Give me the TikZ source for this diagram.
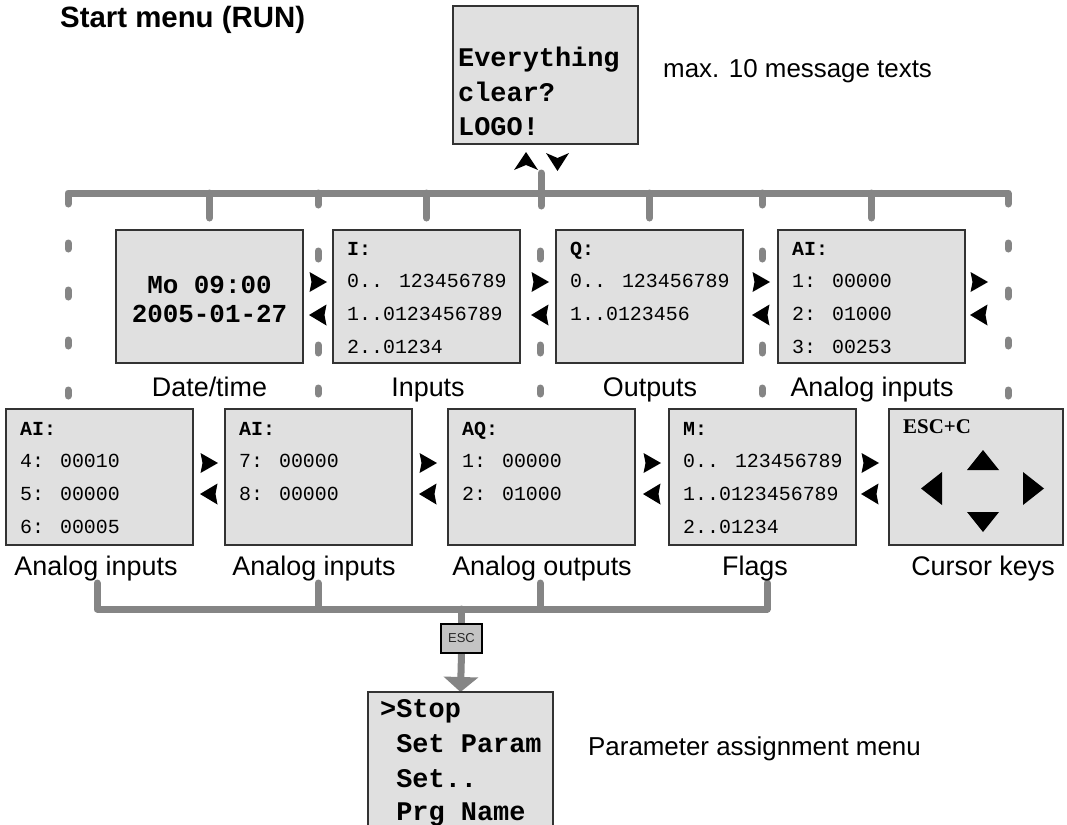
\documentclass[tikz,border=0pt]{standalone}
\usepackage{fontspec}
\setmainfont{Liberation Sans}
\newfontfamily\lcdfont{Liberation Mono}
\newfontfamily\keyfont{Liberation Serif}
\usetikzlibrary{calc,arrows.meta}
\definecolor{lcd}{HTML}{E0E0E0}
\definecolor{busgray}{HTML}{858585}
\definecolor{escgray}{HTML}{C4C4C4}
\pgfdeclarelayer{bg}
\pgfsetlayers{bg,main}
\tikzset{
  screen/.style={draw=black!80, line width=1.5bp, fill=lcd, anchor=north west, inner sep=0pt, outer sep=0pt},
  rowone/.style={screen, minimum width=187bp, minimum height=133bp},
  rowtwo/.style={screen, minimum width=187bp, minimum height=136bp},
  dat/.style={anchor=base west, inner sep=0pt, font=\lcdfont\fontsize{20}{24}\selectfont},
  hdr/.style={anchor=base west, inner sep=0pt, font=\lcdfont\bfseries\fontsize{20}{24}\selectfont},
  big/.style={anchor=base west, inner sep=0pt, font=\lcdfont\bfseries\fontsize{27}{32}\selectfont},
  lbl/.style={anchor=base, inner sep=0pt, font=\fontsize{27}{30}\selectfont},
  note/.style={anchor=base west, inner sep=0pt, font=\fontsize{26}{30}\selectfont},
  bus/.style={draw=busgray, line width=7bp, line cap=round, line join=round},
}
\newcommand\lcdtext[4]{%
  \node[hdr] (#1-h) at ($(#1.north west)+(14,#3)$) {#2};
  \foreach \t [count=\i] in {#4} {\node[dat] (#1-\i) at ($(#1.north west)+(14,#3+32.7*\i)$) {\t};}
}
\newcommand\navpair[3]{%
  \fill (#1-8.5,#2-10) -- (#1+9,#2) -- (#1-8.5,#2+10) -- (#1-6.5,#2) -- cycle;
  \fill (#1+8.5,#3-10.5) -- (#1-9,#3) -- (#1+8.5,#3+10.5) -- (#1+6.5,#3) -- cycle;
}
\begin{document}
\begin{tikzpicture}[x=1bp,y=-1bp]
\useasboundingbox (0,0) rectangle (1067,825);
\clip (0,0) rectangle (1067,825);

% title and notes
\node[anchor=base west, inner sep=0pt, font=\bfseries\fontsize{29.5}{34}\selectfont] (title) at (60,27) {Start menu (RUN)};
\node[note] (maxnote) at (663,77) {max. 10 message texts};
\node[note] (parnote) at (588,755) {Parameter assignment menu};

% message box
\node[screen, minimum width=185bp, minimum height=138bp] (msg) at (453,6) {};
\node[big] (msg-1) at (458,66) {Everything};
\node[big] (msg-2) at (458,101) {clear?};
\node[big] (msg-3) at (458,135) {LOGO!};
\fill (514,170) -- (526,152) -- (538,170) -- (526,165) -- cycle;
\fill (546,153) -- (557.5,171) -- (569,153) -- (557.5,158) -- cycle;

% row 1
\node[rowone] (dt) at (116,230) {};
\node[rowone] (inp) at (333,230) {};
\node[rowone] (outp) at (556,230) {};
\node[rowone] (ai1) at (778,230) {};
\node[anchor=base, inner sep=0pt, font=\lcdfont\bfseries\fontsize{26}{30}\selectfont] (dt-1) at (209.5,293) {Mo 09:00};
\node[anchor=base, inner sep=0pt, font=\lcdfont\bfseries\fontsize{26}{30}\selectfont] (dt-2) at (209.5,322) {2005-01-27};
\lcdtext{inp}{I:}{25}{0.. 123456789,1..0123456789,2..01234}
\lcdtext{outp}{Q:}{25}{0.. 123456789,1..0123456}
\lcdtext{ai1}{AI:}{25}{1: 00000,2: 01000,3: 00253}
\node[lbl] (l-dt) at (209.5,396) {Date/time};
\node[lbl] (l-inp) at (428,396) {Inputs};
\node[lbl] (l-outp) at (650,396) {Outputs};
\node[lbl] (l-ai1) at (872,396) {Analog inputs};
\navpair{318}{282}{315}
\navpair{540}{282}{315}
\navpair{761}{282}{315}
\navpair{979}{282}{315}

% row 2
\node[rowtwo] (ai2) at (6,409) {};
\node[rowtwo] (ai3) at (225,409) {};
\node[rowtwo] (aq) at (448,409) {};
\node[rowtwo] (mfl) at (669,409) {};
\node[screen, minimum width=174bp, minimum height=136bp] (cur) at (889,409) {};
\lcdtext{ai2}{AI:}{26}{4: 00010,5: 00000,6: 00005}
\lcdtext{ai3}{AI:}{26}{7: 00000,8: 00000}
\lcdtext{aq}{AQ:}{26}{1: 00000,2: 01000}
\lcdtext{mfl}{M:}{26}{0.. 123456789,1..0123456789,2..01234}
\node[anchor=base west, inner sep=0pt, font=\keyfont\bfseries\fontsize{21}{24}\selectfont] (cur-h) at (903,433) {ESC+C};
\fill (967,470) -- (999,470) -- (983,450) -- cycle;
\fill (967,512) -- (999,512) -- (983,532) -- cycle;
\fill (942,472) -- (942,505) -- (921,488.5) -- cycle;
\fill (1023,472) -- (1023,505) -- (1044,488.5) -- cycle;
\node[lbl] (l-ai2) at (96,575) {Analog inputs};
\node[lbl] (l-ai3) at (314,575) {Analog inputs};
\node[lbl] (l-aq) at (542,575) {Analog outputs};
\node[lbl] (l-mfl) at (755,575) {Flags};
\node[lbl] (l-cur) at (983,575) {Cursor keys};
\navpair{209}{463}{494}
\navpair{428}{463}{494}
\navpair{652}{463}{494}
\navpair{870}{463}{494}

% ESC and parameter menu
\node[draw=black, line width=1.2bp, fill=escgray, minimum width=41bp, minimum height=29bp, inner sep=0pt, font=\fontsize{13}{14}\selectfont, text=black!85] (esc) at (461.5,638.5) {ESC};
\node[screen, minimum width=185bp, minimum height=160bp] (par) at (368,692) {};
\node[big] (par-1) at (380,717) {>Stop};
\node[big] (par-2) at (380,752) {\hphantom{>}Set Param};
\node[big] (par-3) at (380,787) {\hphantom{>}Set..};
\node[big] (par-4) at (380,820) {\hphantom{>}Prg Name};

\begin{pgfonlayer}{bg}
  \draw[bus] (68,204) -- (68,193) -- (1008,193) -- (1008,204);
  \draw[bus] (541,173) -- (541,206);
  \draw[bus] (318,193) -- (318,205);
  \draw[bus] (762,193) -- (762,205);
  \foreach \b in {dt,inp,outp,ai1} \draw[bus] ($(\b.north)+(0,-12)$) -- ($(\b.north)+(0,-37)$);
  \foreach \x in {68,1008} \foreach \a/\c in {243/249,290/297,340/346,390/396} \draw[bus] (\x,\a) -- (\x,\c);
  \foreach \x in {318,540,762} \foreach \a/\c in {251/259,345/353,388/394} \draw[bus] (\x,\a) -- (\x,\c);
  \draw[bus] (97,583) -- (97,609) -- (767,609) -- (767,583);
  \draw[bus] (318,583) -- (318,609);
  \draw[bus] (540,583) -- (540,609);
  \draw[bus] (461.5,609) -- (esc.north);
  \draw[bus, line cap=butt, -{Triangle[length=15bp,width=34bp]}] (esc.south) -- (par.north);
\end{pgfonlayer}
\end{tikzpicture}
\end{document}
